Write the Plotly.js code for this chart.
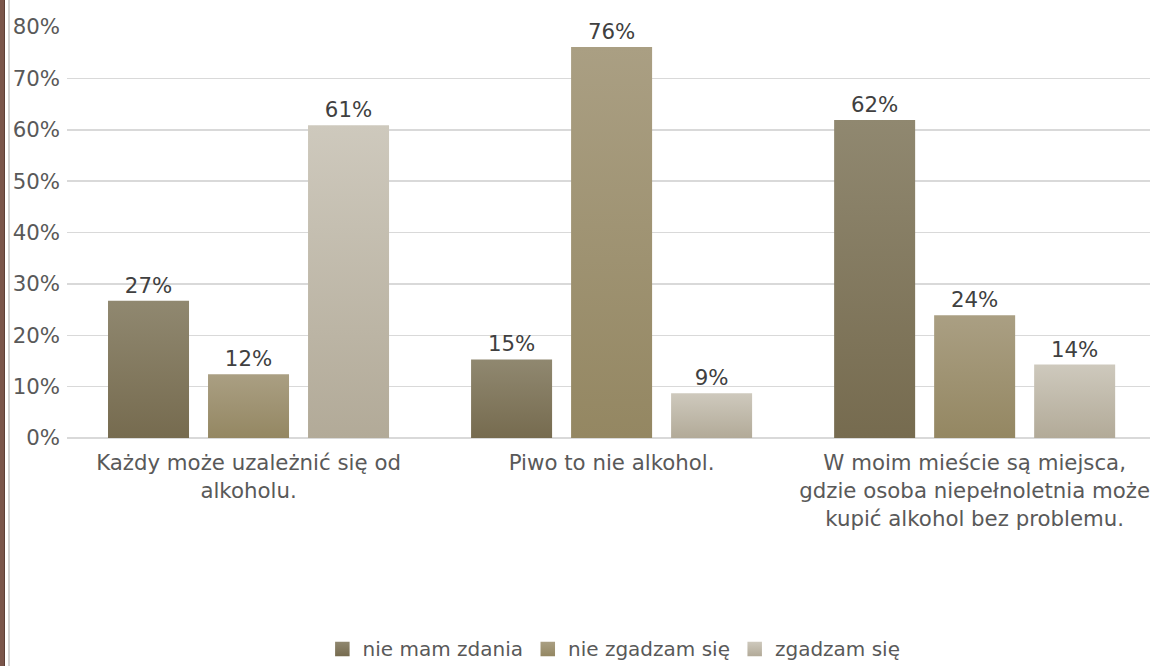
<!DOCTYPE html>
<html><head><meta charset="utf-8">
<script src="https://cdn.plot.ly/plotly-3.0.1.min.js"></script>
<style>
body{margin:0;background:#fff}
#wrap{position:relative;width:1150px;height:666px;overflow:hidden}
#chart{position:absolute;left:0;top:0;width:1150px;height:666px}
.b1{position:absolute;left:0;top:0;width:4px;height:666px;background:#7a554a;border-right:1px solid #5e3f36;z-index:5}
.b2{position:absolute;left:8px;top:0;width:2px;height:666px;background:#d4d4d4;z-index:5}
</style>
</head><body>
<div id="wrap"><div class="b1"></div><div class="b2"></div><div id="chart"></div></div>
<script>
const categories = [
  "Każdy może uzależnić się od<br>alkoholu.",
  "Piwo to nie alkohol.",
  "W moim mieście są miejsca,<br>gdzie osoba niepełnoletnia może<br>kupić alkohol bez problemu."
];
const seriesNames = ["nie mam zdania", "nie zgadzam się", "zgadzam się"];
const nieMamZdania = [26.7, 15.3, 61.9];
const nieZgadzamSie = [12.4, 76.1, 23.9];
const zgadzamSie = [60.9, 8.7, 14.3];
const yTicks = [0, 10, 20, 30, 40, 50, 60, 70, 80];

const seriesValues = [nieMamZdania, nieZgadzamSie, zgadzamSie];
const baseColors = ["#837a5f", "#a09571", "#c1baab"];
const gradStops = [["#908870", "#766b4f"], ["#aa9f83", "#948762"], ["#cec9bd", "#b2aa98"]];
const FS = 21.3;

const traces = seriesValues.map((vals, i) => ({
  type: "bar",
  name: seriesNames[i],
  x: categories,
  y: vals,
  marker: {color: baseColors[i], line: {width: 0}},
  text: vals.map(v => Math.round(v) + "%"),
  textposition: "outside",
  textfont: {family: "DejaVu Sans", size: FS, color: "#404040"},
  cliponaxis: false,
  hoverinfo: "skip"
}));

const layout = {
  width: 1150, height: 666,
  margin: {l: 67, r: 0, t: 27, b: 228},
  paper_bgcolor: "#ffffff", plot_bgcolor: "#ffffff",
  font: {family: "DejaVu Sans", size: FS, color: "#595959"},
  barmode: "group",
  bargap: 0.1736,
  bargroupgap: 0.19,
  showlegend: true,
  legend: {
    orientation: "h", xref: "container", yref: "container",
    x: 0.534, xanchor: "center", y: 0.026, yanchor: "middle",
    font: {family: "DejaVu Sans", size: 20, color: "#595959"},
    itemwidth: 30, tracegroupgap: 0
  },
  xaxis: {
    type: "category", range: [-0.5, 2.483],
    showgrid: false, zeroline: false, showline: false, ticks: "",
    ticklabelstandoff: 10,
    tickfont: {family: "DejaVu Sans", size: FS, color: "#595959"}
  },
  yaxis: {
    range: [0, 80], tickvals: yTicks, ticktext: yTicks.map(v => v + "%"),
    showgrid: true, gridcolor: "#d9d9d9", gridwidth: 1.5,
    zeroline: true, zerolinecolor: "#d9d9d9", zerolinewidth: 2,
    showline: false, ticks: "", ticklabelstandoff: 6,
    tickfont: {family: "DejaVu Sans", size: FS, color: "#595959"}
  }
};

function applyGradients() {
  const gd = document.getElementById("chart");
  const svg = gd.querySelector("svg.main-svg");
  if (!svg) return;
  const ns = "http://www.w3.org/2000/svg";
  let defs = svg.querySelector("defs");
  if (!defs) { defs = document.createElementNS(ns, "defs"); svg.insertBefore(defs, svg.firstChild); }
  gradStops.forEach((st, i) => {
    if (document.getElementById("bargrad" + i)) return;
    const lg = document.createElementNS(ns, "linearGradient");
    lg.setAttribute("id", "bargrad" + i);
    lg.setAttribute("x1", "0"); lg.setAttribute("y1", "0");
    lg.setAttribute("x2", "0"); lg.setAttribute("y2", "1");
    [[0, st[0]], [1, st[1]]].forEach(([o, c]) => {
      const s = document.createElementNS(ns, "stop");
      s.setAttribute("offset", o); s.setAttribute("stop-color", c);
      lg.appendChild(s);
    });
    defs.appendChild(lg);
  });
  gd.querySelectorAll(".barlayer .trace").forEach((t, i) => {
    t.querySelectorAll("path").forEach(p => { p.style.fill = "url(#bargrad" + i + ")"; });
  });
  gd.querySelectorAll(".legend .traces").forEach((t, i) => {
    t.querySelectorAll(".legendpoints path").forEach(p => {
      p.style.fill = "url(#bargrad" + i + ")";
      p.setAttribute("d", "M7,7.5H-7.5V-7H7Z");
    });
  });
}

Plotly.newPlot("chart", traces, layout, {displayModeBar: false, staticPlot: true}).then(applyGradients);
</script>
</body></html>
